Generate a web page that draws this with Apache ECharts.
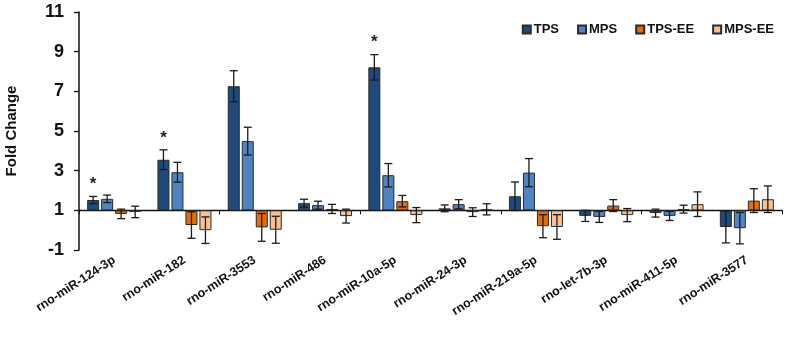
<!DOCTYPE html>
<html>
<head>
<meta charset="utf-8">
<script src="https://cdn.jsdelivr.net/npm/echarts@6/dist/echarts.min.js"></script>
<style>
  html, body { margin: 0; padding: 0; background: #fff; }
  #chart { width: 787px; height: 343px; }
</style>
</head>
<body>
<div id="chart"></div>
<script>
// fold change values, bars hang from 1
const categories = ['rno-miR-124-3p', 'rno-miR-182', 'rno-miR-3553', 'rno-miR-486', 'rno-miR-10a-5p',
  'rno-miR-24-3p', 'rno-miR-219a-5p', 'rno-let-7b-3p', 'rno-miR-411-5p', 'rno-miR-3577'];
const seriesNames = ['TPS', 'MPS', 'TPS-EE', 'MPS-EE'];
const tps = [1.52, 3.55, 7.26, 1.36, 8.21, 1.10, 1.71, 0.72, 0.86, 0.16];
const tpsErr = [0.18, 0.50, 0.78, 0.20, 0.64, 0.17, 0.72, 0.28, 0.20, 0.80];
const mps = [1.58, 2.92, 4.49, 1.26, 2.77, 1.31, 2.90, 0.67, 0.72, 0.10];
const mpsErr = [0.19, 0.50, 0.70, 0.20, 0.59, 0.23, 0.71, 0.28, 0.23, 0.79];
const tpsEE = [0.82, 0.26, 0.14, 1.07, 1.46, 0.91, 0.20, 1.24, 1.06, 1.49];
const tpsEEErr = [0.24, 0.67, 0.70, 0.23, 0.29, 0.22, 0.58, 0.30, 0.20, 0.60];
const mpsEE = [0.92, 0.00, 0.02, 0.71, 0.76, 1.05, 0.16, 0.76, 1.31, 1.56];
const mpsEEErr = [0.29, 0.67, 0.68, 0.35, 0.38, 0.28, 0.62, 0.33, 0.62, 0.67];
const tpsStars = [true, true, false, false, true, false, false, false, false, false];
const yTicks = [-1, 1, 3, 5, 7, 9, 11];

const BASE = 1;
const colors = ['#1f4a7e', '#4f84c4', '#e46c0a', '#fac090'];
const BAR_W = 12;
const GAP = 2;

const values = [tps, mps, tpsEE, mpsEE];
const errors = [tpsErr, mpsErr, tpsEEErr, mpsEEErr];
const stars = [tpsStars, null, null, null];

const totalW = 4 * BAR_W + 3 * GAP;
const offsets = [0, 1, 2, 3].map(i => -totalW / 2 + i * (BAR_W + GAP) + BAR_W / 2);

const font = 'Liberation Sans, Arial, sans-serif';

function errRender(k) {
  return function (params, api) {
    const i = api.value(0);
    const v = api.value(1);
    const e = api.value(2);
    const x = api.coord([i, v])[0] + offsets[k];
    const top = api.coord([i, v + e])[1];
    const bot = api.coord([i, v - e])[1];
    const st = { stroke: '#1a1a1a', lineWidth: 1.3 };
    const children = [
      { type: 'line', shape: { x1: x, y1: top, x2: x, y2: bot }, style: st },
      { type: 'line', shape: { x1: x - 4, y1: top, x2: x + 4, y2: top }, style: st },
      { type: 'line', shape: { x1: x - 4, y1: bot, x2: x + 4, y2: bot }, style: st }
    ];
    if (api.value(3)) {
      children.push({
        type: 'text',
        style: { x: x, y: top - 12, text: '*', fill: '#222', font: 'bold 17px ' + font, align: 'center', verticalAlign: 'middle' }
      });
    }
    return { type: 'group', children: children };
  };
}

const series = [];
seriesNames.forEach((name, k) => {
  series.push({
    name: name,
    type: 'bar',
    xAxisIndex: 0,
    barWidth: BAR_W,
    barGap: (GAP / BAR_W * 100) + '%',
    itemStyle: { color: colors[k], borderColor: '#2a2a2a', borderWidth: 1 },
    data: values[k].map(v => +(v - BASE).toFixed(3))
  });
});
seriesNames.forEach((name, k) => {
  series.push({
    type: 'custom',
    xAxisIndex: 0,
    z: 5,
    renderItem: errRender(k),
    data: values[k].map((v, i) => [i, v - BASE, errors[k][i], stars[k] && stars[k][i] ? 1 : 0])
  });
});

const chart = echarts.init(document.getElementById('chart'));
chart.setOption({
  animation: false,
  textStyle: { fontFamily: font },
  legend: {
    data: seriesNames,
    top: 18,
    right: 8,
    itemWidth: 8,
    itemHeight: 8,
    itemGap: 18,
    icon: 'rect',
    textStyle: { fontWeight: 'bold', fontSize: 13, color: '#111', fontFamily: font, padding: [0, 0, 0, -2] }
  },
  grid: { left: 79, right: 5, top: 12, bottom: 93, outerBoundsMode: 'none', containLabel: false },
  xAxis: [{
    type: 'category',
    data: categories,
    position: 'bottom',
    axisLine: { show: false, onZero: false },
    axisTick: { show: false },
    axisLabel: { rotate: 33, margin: 9, fontWeight: 'bold', fontSize: 12.5, color: '#111', interval: 0, fontFamily: font }
  }, {
    type: 'category',
    data: categories,
    position: 'top',
    axisLine: { show: true, onZero: true, lineStyle: { color: '#111', width: 1.3 } },
    axisTick: { show: true, inside: true, length: 4, lineStyle: { color: '#111' } },
    axisLabel: { show: false }
  }],
  yAxis: {
    type: 'value',
    min: yTicks[0] - BASE,
    max: yTicks[yTicks.length - 1] - BASE,
    interval: yTicks[1] - yTicks[0],
    name: 'Fold Change',
    nameLocation: 'middle',
    nameGap: 60,
    nameTextStyle: { fontWeight: 'bold', fontSize: 15, color: '#111', fontFamily: font },
    axisLine: { show: true, onZero: false, lineStyle: { color: '#111', width: 1.5 } },
    axisTick: { show: true, length: 5, lineStyle: { color: '#111', width: 1.3 } },
    axisLabel: { margin: 15, fontWeight: 'bold', fontSize: 18, color: '#111', fontFamily: font,
      formatter: v => String(v + BASE) },
    splitLine: { show: false }
  },
  series: series
});
</script>
</body>
</html>
